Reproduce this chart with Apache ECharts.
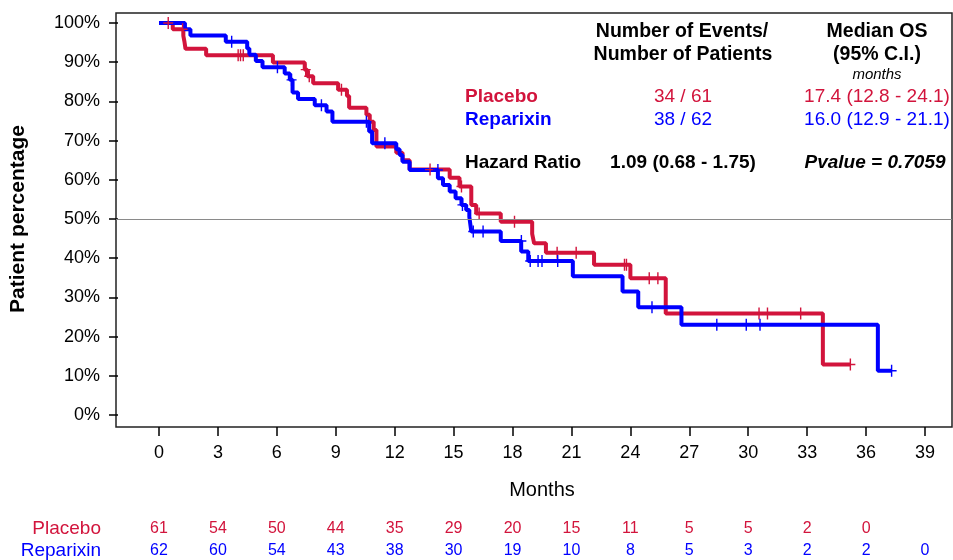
<!DOCTYPE html>
<html>
<head>
<meta charset="utf-8">
<script src="https://cdn.jsdelivr.net/npm/echarts@6/dist/echarts.min.js"></script>
<style>html,body{margin:0;padding:0;background:#fff}#c{width:953px;height:560px}</style>
</head>
<body>
<div id="c"></div>
<script>
// ---- data ----
const monthTicks = [0,3,6,9,12,15,18,21,24,27,30,33,36,39];
const atRiskPlacebo = [61,54,50,44,35,29,20,15,11,5,5,2,0];
const atRiskReparixin = [62,60,54,43,38,30,19,10,8,5,3,2,2,0];

// Kaplan-Meier steps: [month, survival %] (value holds from that month on)
const placeboSteps = [[0,100],[0.7,98.4],[1.24,96.7],[1.3,95.1],[1.35,93.4],[2.4,91.8],[5.8,89.9],[7.42,88.1],[7.55,86.4],[7.85,84.6],[9.12,83.0],[9.57,81.4],[9.68,78.4],[10.56,76.6],[10.73,74.8],[10.93,72.7],[11.07,68.5],[12.08,66.9],[12.4,65.0],[12.76,62.6],[14.8,60.5],[15.3,58.3],[15.9,53.6],[16.15,51.4],[17.4,49.3],[19.0,46.2],[19.1,43.8],[19.7,41.4],[22.15,38.3],[24.0,34.9],[25.8,25.9],[33.8,12.9],[35.2,12.9]];
const placeboCensored = [[0.47,100],[1.2,98.4],[4.03,91.8],[4.15,91.8],[4.29,91.8],[7.47,88.1],[7.65,86.4],[9.29,83.0],[13.8,62.6],[15.4,58.3],[16.3,51.4],[18.1,49.3],[20.27,41.4],[21.24,41.4],[23.7,38.3],[23.8,38.3],[24.96,34.9],[25.4,34.9],[30.55,25.9],[30.98,25.9],[32.67,25.9],[35.2,12.9]];

const reparixinSteps = [[0,100],[1.32,98.4],[1.6,96.8],[3.4,95.2],[4.49,93.5],[4.6,91.9],[4.93,90.3],[5.27,88.7],[6.4,87.1],[6.66,85.5],[6.8,82.3],[7.08,80.6],[7.93,79.0],[8.53,77.4],[8.83,74.8],[10.7,72.3],[10.85,69.3],[12.08,67.8],[12.25,66.3],[12.4,64.6],[12.76,62.5],[14.2,60.4],[14.46,58.7],[14.8,57.0],[15.1,55.3],[15.4,53.6],[15.64,52.3],[15.8,50.6],[15.9,46.8],[17.4,44.4],[18.44,41.7],[18.8,39.3],[21.07,35.4],[23.6,31.5],[24.4,27.5],[26.6,23.0],[36.6,11.3],[37.3,11.3]];
const reparixinCensored = [[3.7,95.2],[6.03,88.7],[6.75,85.5],[8.27,79.0],[10.56,74.8],[11.5,69.3],[14.2,62.5],[15.45,53.6],[16.0,46.8],[16.5,46.8],[18.45,44.4],[18.9,39.3],[19.3,39.3],[19.5,39.3],[20.3,39.3],[25.1,27.5],[28.4,23.0],[29.9,23.0],[30.6,23.0],[37.3,11.3]];

const groups = ['Placebo','Reparixin'];
const eventsText = ['34 / 61','38 / 62'];
const medianText = ['17.4 (12.8 - 24.1)','16.0 (12.9 - 21.1)'];
const hazardLabel = 'Hazard Ratio';
const hazardText = '1.09 (0.68 - 1.75)';
const pvalueText = 'Pvalue = 0.7059';

// ---- styling ----
const RED = '#d2143c', BLUE = '#0000ff';
const FF = '"Liberation Sans", Arial, Helvetica, sans-serif';
const plus = 'path://M4.3,0h1.4v12h-1.4z M0,5.3h10v1.4h-10z';

const chart = echarts.init(document.getElementById('c'), null, {renderer:'canvas'});

function riskFmt(arr){ return v => { const i = monthTicks.indexOf(v); return (i >= 0 && arr[i] != null) ? String(arr[i]) : ''; }; }

function txt(text, x, y, opt){
  return {type:'text', z:100, style:Object.assign({text:text, x:x, y:y, fill:'#000', font:'19px ' + FF, textAlign:'center', textVerticalAlign:'middle', align:'center', verticalAlign:'middle'}, opt || {})};
}

const graphics = [
  txt('Number of Events/', 682, 32, {font:'bold 19.5px ' + FF}),
  txt('Number of Patients', 683, 55, {font:'bold 19.5px ' + FF}),
  txt('Median OS', 877, 32, {font:'bold 19.5px ' + FF}),
  txt('(95% C.I.)', 877, 55, {font:'bold 19.5px ' + FF}),
  txt('months', 877, 75, {font:'italic 15px ' + FF}),
  txt(groups[0], 465, 97, {font:'bold 19px ' + FF, fill:RED, textAlign:'left', align:'left'}),
  txt(groups[1], 465, 120, {font:'bold 19px ' + FF, fill:BLUE, textAlign:'left', align:'left'}),
  txt(eventsText[0], 683, 97, {fill:RED}),
  txt(eventsText[1], 683, 120, {fill:BLUE}),
  txt(medianText[0], 877, 97, {fill:RED}),
  txt(medianText[1], 877, 120, {fill:BLUE}),
  txt(hazardLabel, 465, 163, {font:'bold 19px ' + FF, textAlign:'left', align:'left'}),
  txt(hazardText, 683, 163, {font:'bold 19px ' + FF}),
  txt(pvalueText, 875, 163, {font:'italic bold 19px ' + FF}),
  txt(groups[0], 101, 529, {font:'19px ' + FF, fill:RED, textAlign:'right', align:'right'}),
  txt(groups[1], 101, 551, {font:'19px ' + FF, fill:BLUE, textAlign:'right', align:'right'})
];

const tickStyle = {color:'#000', width:1.5};
const hiddenX = g => ({gridIndex:g, type:'value', min:0, max:1, show:false});
const hiddenY = g => ({gridIndex:g, type:'value', min:0, max:1, show:false});

const option = {
  animation:false,
  backgroundColor:'#fff',
  textStyle:{fontFamily:FF},
  grid:[
    {left:159, right:28, top:23, bottom:145},                 // 0 data
    {left:116, right:1, top:13, bottom:133, show:true, borderColor:'#222', borderWidth:1.5, backgroundColor:'rgba(0,0,0,0)'}, // 1 frame
    {left:116, right:1, top:23, bottom:145},                  // 2 y ticks
    {left:159, right:28, top:13, bottom:133},                 // 3 x ticks
    {left:159, right:28, top:13, bottom:47},                  // 4 at-risk placebo
    {left:159, right:28, top:13, bottom:25}                   // 5 at-risk reparixin
  ],
  xAxis:[
    {gridIndex:0, type:'value', min:0, max:39, show:false},
    {gridIndex:1, type:'value', min:0, max:1, show:false},
    hiddenX(2),
    {gridIndex:3, type:'value', min:0, max:39, interval:3, position:'bottom',
      axisLine:{show:false}, axisTick:{show:true, length:9, lineStyle:tickStyle},
      axisLabel:{margin:17, fontSize:18, color:'#000', fontFamily:FF}, splitLine:{show:false},
      name:'Months', nameLocation:'middle', nameGap:53, nameTextStyle:{fontSize:20, color:'#000', fontFamily:FF}},
    {gridIndex:4, type:'value', min:0, max:39, interval:3, position:'bottom',
      axisLine:{show:false}, axisTick:{show:false}, splitLine:{show:false},
      axisLabel:{margin:8, fontSize:16, color:RED, fontFamily:FF, formatter:riskFmt(atRiskPlacebo)}},
    {gridIndex:5, type:'value', min:0, max:39, interval:3, position:'bottom',
      axisLine:{show:false}, axisTick:{show:false}, splitLine:{show:false},
      axisLabel:{margin:8, fontSize:16, color:BLUE, fontFamily:FF, formatter:riskFmt(atRiskReparixin)}}
  ],
  yAxis:[
    {gridIndex:0, type:'value', min:0, max:100, show:false},
    {gridIndex:1, type:'value', min:-3.06, max:102.55, show:false},
    {gridIndex:2, type:'value', min:0, max:100, interval:10, position:'left',
      axisLine:{show:false}, axisTick:{show:true, length:9, lineStyle:tickStyle},
      axisLabel:{margin:18, fontSize:18, color:'#000', fontFamily:FF, formatter:'{value}%'}, splitLine:{show:false},
      name:'Patient percentage', nameLocation:'middle', nameGap:89,
      nameTextStyle:{fontSize:21, fontWeight:'bold', color:'#000', fontFamily:FF}},
    hiddenY(3), hiddenY(4), hiddenY(5)
  ],
  series:[
    {type:'line', xAxisIndex:1, yAxisIndex:1, data:[], silent:true,
      markLine:{silent:true, symbol:'none', label:{show:false}, lineStyle:{color:'#8a8a8a', width:1.2, type:'solid'}, data:[{yAxis:50}]}},
    {name:'Placebo', type:'line', step:'end', xAxisIndex:0, yAxisIndex:0, data:placeboSteps, showSymbol:false, clip:false, z:2,
      lineStyle:{color:RED, width:4}},
    {name:'Reparixin', type:'line', step:'end', xAxisIndex:0, yAxisIndex:0, data:reparixinSteps, showSymbol:false, clip:false, z:3,
      lineStyle:{color:BLUE, width:4}},
    {type:'scatter', xAxisIndex:0, yAxisIndex:0, data:placeboCensored, symbol:plus, symbolSize:[10,12], clip:false, z:4,
      itemStyle:{color:RED, opacity:1}},
    {type:'scatter', xAxisIndex:0, yAxisIndex:0, data:reparixinCensored, symbol:plus, symbolSize:[10,12], clip:false, z:5,
      itemStyle:{color:BLUE, opacity:1}}
  ],
  graphic:graphics
};
chart.setOption(option);
</script>
</body>
</html>
